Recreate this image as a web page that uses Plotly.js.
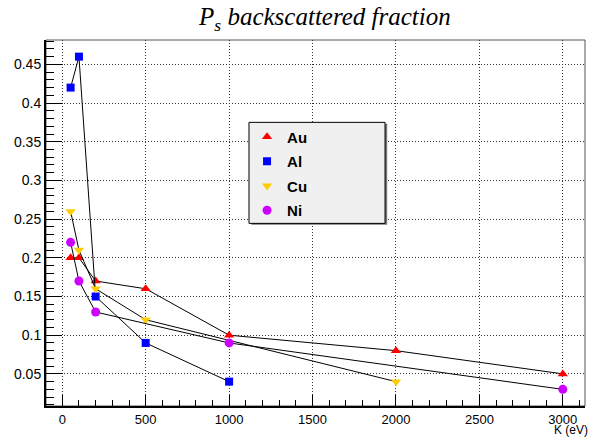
<!DOCTYPE html>
<html>
<head>
<meta charset="utf-8">
<script src="https://cdn.plot.ly/plotly-3.0.1.min.js"></script>
<style>html,body{margin:0;padding:0;background:#fff;}#chart{width:594px;height:438px;}</style>
</head>
<body>
<div id="chart"></div>
<script>
// ---- data ----
const auK = [50, 100, 200, 500, 1000, 2000, 3000];
const auF = [0.20, 0.20, 0.17, 0.16, 0.10, 0.08, 0.05];
const alK = [50, 100, 200, 500, 1000];
const alF = [0.42, 0.46, 0.15, 0.09, 0.04];
const cuK = [50, 100, 200, 500, 2000];
const cuF = [0.26, 0.21, 0.16, 0.12, 0.04];
const niK = [50, 100, 200, 1000, 3000];
const niF = [0.22, 0.17, 0.13, 0.09, 0.03];
const seriesNames = ['Au', 'Al', 'Cu', 'Ni'];
const xTickVals = [0, 500, 1000, 1500, 2000, 2500, 3000];
const yTickVals = [0.05, 0.1, 0.15, 0.2, 0.25, 0.3, 0.35, 0.4, 0.45];

const series = [
  {name: seriesNames[0], x: auK, y: auF, symbol: 'triangle-up', color: '#ff0000', size: 9},
  {name: seriesNames[1], x: alK, y: alF, symbol: 'square', color: '#0000ff', size: 8},
  {name: seriesNames[2], x: cuK, y: cuF, symbol: 'triangle-down', color: '#ffcc00', size: 9},
  {name: seriesNames[3], x: niK, y: niF, symbol: 'circle', color: '#cc00ff', size: 9}
];

const traces = [];
series.forEach((s, i) => {
  traces.push({
    x: s.x, y: s.y, mode: 'lines', type: 'scatter',
    line: {color: '#000', width: 1}, showlegend: false,
    legendgroup: 'g' + i, hoverinfo: 'skip'
  });
  traces.push({
    x: s.x, y: s.y, mode: 'markers', type: 'scatter', name: s.name,
    marker: {symbol: s.symbol, color: s.color, size: s.size, line: {width: 0}},
    legendgroup: 'g' + i
  });
});

const axisFont = {family: 'Liberation Sans, Arial, sans-serif', size: 14, color: '#000'};
const xFont = {family: 'Liberation Sans, Arial, sans-serif', size: 13, color: '#000'};

const layout = {
  width: 594, height: 438,
  margin: {l: 46, r: 9, t: 40, b: 32},
  paper_bgcolor: '#fff', plot_bgcolor: '#fff',
  title: {
    text: '<i>P<sub>s</sub> backscattered fraction</i>',
    font: {family: 'Liberation Serif, Times New Roman, serif', size: 25, color: '#000'},
    xref: 'container', x: 0.547, xanchor: 'center',
    yref: 'container', y: 0.962, yanchor: 'middle'
  },
  xaxis: {
    range: [-97.5, 3133], tickvals: xTickVals, ticktext: xTickVals.map(String),
    ticks: 'inside', ticklen: 11, tickwidth: 1, tickcolor: '#000',
    showline: true, linecolor: '#000', linewidth: 2,
    showgrid: true, gridcolor: '#333', gridwidth: 1, griddash: '1px,2px',
    zeroline: false, tickfont: xFont,
    minor: {dtick: 100, tick0: 0, ticks: 'inside', ticklen: 6, tickcolor: '#000', showgrid: false}
  },
  yaxis: {
    range: [0.0085, 0.4815], tickvals: yTickVals, ticktext: yTickVals.map(String),
    ticks: 'inside', ticklen: 16, tickwidth: 1, tickcolor: '#000',
    showline: true, linecolor: '#000', linewidth: 2,
    showgrid: true, gridcolor: '#333', gridwidth: 1, griddash: '1px,2px',
    zeroline: false, tickfont: axisFont,
    minor: {dtick: 0.01, tick0: 0, ticks: 'inside', ticklen: 8, tickcolor: '#000', showgrid: false}
  },
  shapes: [
    {type: 'rect', xref: 'paper', yref: 'paper', x0: 0, x1: 1, y0: 0, y1: 1,
     line: {color: '#555', width: 1}, fillcolor: 'rgba(0,0,0,0)', layer: 'below'},
    {type: 'rect', xref: 'paper', yref: 'paper', x0: 0.381, x1: 0.633, y0: 0.495, y1: 0.771,
     line: {width: 0}, fillcolor: '#777', layer: 'above'},
    {type: 'rect', xref: 'paper', yref: 'paper', x0: 0.3766, x1: 0.629, y0: 0.499, y1: 0.775,
     line: {color: '#000', width: 1}, fillcolor: '#f0f0f0', layer: 'above'}
  ],
  annotations: [
    {text: 'K (eV)', xref: 'paper', yref: 'paper', x: 1.007, y: -0.0874,
     xanchor: 'right', yanchor: 'bottom', showarrow: false, borderpad: 0,
     font: {family: 'Liberation Sans, Arial, sans-serif', size: 12, color: '#000'}}
  ],
  legend: {
    x: 0.373, y: 0.78, xanchor: 'left', yanchor: 'top',
    bgcolor: 'rgba(0,0,0,0)', borderwidth: 0,
    traceorder: 'grouped', tracegroupgap: 2,
    font: {family: 'Liberation Sans, Arial, sans-serif', size: 15, color: '#000', weight: 'bold'},
    itemwidth: 30
  },
  showlegend: true
};

Plotly.newPlot('chart', traces, layout, {staticPlot: true, displayModeBar: false});
</script>
</body>
</html>
